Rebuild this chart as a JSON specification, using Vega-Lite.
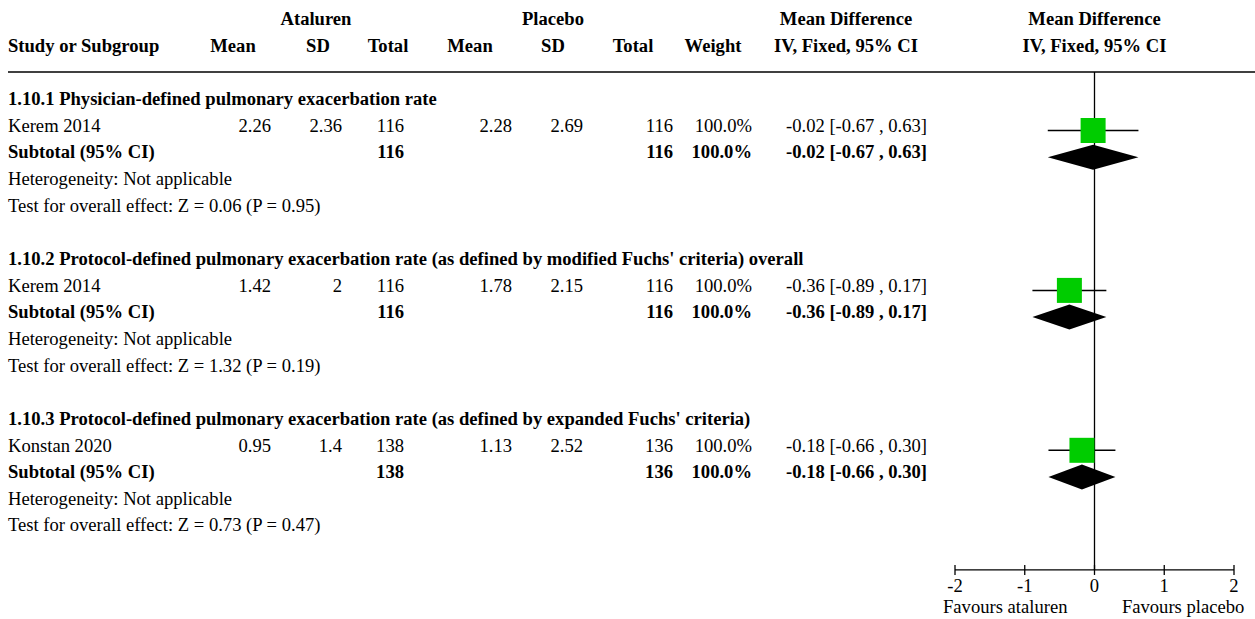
{
  "$schema": "https://vega.github.io/schema/vega-lite/v6.json",
  "padding": 0,
  "spacing": 0,
  "bounds": "flush",
  "background": "white",
  "config": {
    "view": {"stroke": null},
    "text": {"font": "Liberation Serif", "fontSize": 18.6, "baseline": "alphabetic", "dy": 1.2, "color": "black"}
  },
  "datasets": {
    "table": [
      {"row": 0, "kind": "heading", "label": "1.10.1 Physician-defined pulmonary exacerbation rate"},
      {"row": 1, "kind": "study", "label": "Kerem 2014", "mean_a": 2.26, "sd_a": 2.36, "n_a": 116, "mean_p": 2.28, "sd_p": 2.69, "n_p": 116, "weight": 1, "ci": "-0.02 [-0.67 , 0.63]", "md": -0.02, "lo": -0.67, "hi": 0.63},
      {"row": 2, "kind": "subtotal", "label": "Subtotal (95% CI)", "n_a": 116, "n_p": 116, "weight": 1, "ci": "-0.02 [-0.67 , 0.63]", "md": -0.02, "lo": -0.67, "hi": 0.63},
      {"row": 3, "kind": "note", "label": "Heterogeneity: Not applicable"},
      {"row": 4, "kind": "note", "label": "Test for overall effect: Z = 0.06 (P = 0.95)"},
      {"row": 6, "kind": "heading", "label": "1.10.2 Protocol-defined pulmonary exacerbation rate (as defined by modified Fuchs' criteria) overall"},
      {"row": 7, "kind": "study", "label": "Kerem 2014", "mean_a": 1.42, "sd_a": 2, "n_a": 116, "mean_p": 1.78, "sd_p": 2.15, "n_p": 116, "weight": 1, "ci": "-0.36 [-0.89 , 0.17]", "md": -0.36, "lo": -0.89, "hi": 0.17},
      {"row": 8, "kind": "subtotal", "label": "Subtotal (95% CI)", "n_a": 116, "n_p": 116, "weight": 1, "ci": "-0.36 [-0.89 , 0.17]", "md": -0.36, "lo": -0.89, "hi": 0.17},
      {"row": 9, "kind": "note", "label": "Heterogeneity: Not applicable"},
      {"row": 10, "kind": "note", "label": "Test for overall effect: Z = 1.32 (P = 0.19)"},
      {"row": 12, "kind": "heading", "label": "1.10.3 Protocol-defined pulmonary exacerbation rate (as defined by expanded Fuchs' criteria)"},
      {"row": 13, "kind": "study", "label": "Konstan 2020", "mean_a": 0.95, "sd_a": 1.4, "n_a": 138, "mean_p": 1.13, "sd_p": 2.52, "n_p": 136, "weight": 1, "ci": "-0.18 [-0.66 , 0.30]", "md": -0.18, "lo": -0.66, "hi": 0.30},
      {"row": 14, "kind": "subtotal", "label": "Subtotal (95% CI)", "n_a": 138, "n_p": 136, "weight": 1, "ci": "-0.18 [-0.66 , 0.30]", "md": -0.18, "lo": -0.66, "hi": 0.30},
      {"row": 15, "kind": "note", "label": "Heterogeneity: Not applicable"},
      {"row": 16, "kind": "note", "label": "Test for overall effect: Z = 0.73 (P = 0.47)"}
    ],
    "ticks": [{"t": -2}, {"t": -1}, {"t": 0}, {"t": 1}, {"t": 2}]
  },
  "hconcat": [
    {
      "width": 955,
      "height": 619,
      "layer": [
        {"data": {"values": [{}]}, "mark": {"type": "rule", "stroke": "#404040", "strokeWidth": 2},
         "encoding": {"x": {"datum": 8, "type": "quantitative", "scale": {"domain": [0, 955], "nice": false, "zero": false}, "axis": null}, "x2": {"datum": 955}, "y": {"datum": -1.195, "type": "quantitative", "scale": {"domain": [19.33, -3.8968], "nice": false, "zero": false}, "axis": null}}},
        {"data": {"values": [{"h": "Study or Subgroup"}]}, "mark": {"type": "text", "align": "left", "fontWeight": "bold"},
         "encoding": {"x": {"datum": 8, "type": "quantitative", "scale": {"domain": [0, 955], "nice": false, "zero": false}, "axis": null}, "y": {"datum": -2, "type": "quantitative", "scale": {"domain": [19.33, -3.8968], "nice": false, "zero": false}, "axis": null}, "text": {"field": "h"}}},
        {"data": {"values": [{"h": "Ataluren"}]}, "mark": {"type": "text", "align": "center", "fontWeight": "bold"},
         "encoding": {"x": {"datum": 316, "type": "quantitative", "scale": {"domain": [0, 955], "nice": false, "zero": false}, "axis": null}, "y": {"datum": -3, "type": "quantitative", "scale": {"domain": [19.33, -3.8968], "nice": false, "zero": false}, "axis": null}, "text": {"field": "h"}}},
        {"data": {"values": [{"h": "Placebo"}]}, "mark": {"type": "text", "align": "center", "fontWeight": "bold"},
         "encoding": {"x": {"datum": 553, "type": "quantitative", "scale": {"domain": [0, 955], "nice": false, "zero": false}, "axis": null}, "y": {"datum": -3, "type": "quantitative", "scale": {"domain": [19.33, -3.8968], "nice": false, "zero": false}, "axis": null}, "text": {"field": "h"}}},
        {"data": {"values": [{"h": "Mean Difference"}]}, "mark": {"type": "text", "align": "center", "fontWeight": "bold"},
         "encoding": {"x": {"datum": 846, "type": "quantitative", "scale": {"domain": [0, 955], "nice": false, "zero": false}, "axis": null}, "y": {"datum": -3, "type": "quantitative", "scale": {"domain": [19.33, -3.8968], "nice": false, "zero": false}, "axis": null}, "text": {"field": "h"}}},
        {"data": {"values": [{"h": "Mean"}]}, "mark": {"type": "text", "align": "center", "fontWeight": "bold"},
         "encoding": {"x": {"datum": 233, "type": "quantitative", "scale": {"domain": [0, 955], "nice": false, "zero": false}, "axis": null}, "y": {"datum": -2, "type": "quantitative", "scale": {"domain": [19.33, -3.8968], "nice": false, "zero": false}, "axis": null}, "text": {"field": "h"}}},
        {"data": {"values": [{"h": "SD"}]}, "mark": {"type": "text", "align": "center", "fontWeight": "bold"},
         "encoding": {"x": {"datum": 318, "type": "quantitative", "scale": {"domain": [0, 955], "nice": false, "zero": false}, "axis": null}, "y": {"datum": -2, "type": "quantitative", "scale": {"domain": [19.33, -3.8968], "nice": false, "zero": false}, "axis": null}, "text": {"field": "h"}}},
        {"data": {"values": [{"h": "Total"}]}, "mark": {"type": "text", "align": "center", "fontWeight": "bold"},
         "encoding": {"x": {"datum": 388, "type": "quantitative", "scale": {"domain": [0, 955], "nice": false, "zero": false}, "axis": null}, "y": {"datum": -2, "type": "quantitative", "scale": {"domain": [19.33, -3.8968], "nice": false, "zero": false}, "axis": null}, "text": {"field": "h"}}},
        {"data": {"values": [{"h": "Mean"}]}, "mark": {"type": "text", "align": "center", "fontWeight": "bold"},
         "encoding": {"x": {"datum": 470, "type": "quantitative", "scale": {"domain": [0, 955], "nice": false, "zero": false}, "axis": null}, "y": {"datum": -2, "type": "quantitative", "scale": {"domain": [19.33, -3.8968], "nice": false, "zero": false}, "axis": null}, "text": {"field": "h"}}},
        {"data": {"values": [{"h": "SD"}]}, "mark": {"type": "text", "align": "center", "fontWeight": "bold"},
         "encoding": {"x": {"datum": 553, "type": "quantitative", "scale": {"domain": [0, 955], "nice": false, "zero": false}, "axis": null}, "y": {"datum": -2, "type": "quantitative", "scale": {"domain": [19.33, -3.8968], "nice": false, "zero": false}, "axis": null}, "text": {"field": "h"}}},
        {"data": {"values": [{"h": "Total"}]}, "mark": {"type": "text", "align": "center", "fontWeight": "bold"},
         "encoding": {"x": {"datum": 633, "type": "quantitative", "scale": {"domain": [0, 955], "nice": false, "zero": false}, "axis": null}, "y": {"datum": -2, "type": "quantitative", "scale": {"domain": [19.33, -3.8968], "nice": false, "zero": false}, "axis": null}, "text": {"field": "h"}}},
        {"data": {"values": [{"h": "Weight"}]}, "mark": {"type": "text", "align": "center", "fontWeight": "bold"},
         "encoding": {"x": {"datum": 713, "type": "quantitative", "scale": {"domain": [0, 955], "nice": false, "zero": false}, "axis": null}, "y": {"datum": -2, "type": "quantitative", "scale": {"domain": [19.33, -3.8968], "nice": false, "zero": false}, "axis": null}, "text": {"field": "h"}}},
        {"data": {"values": [{"h": "IV, Fixed, 95% CI"}]}, "mark": {"type": "text", "align": "center", "fontWeight": "bold"},
         "encoding": {"x": {"datum": 846, "type": "quantitative", "scale": {"domain": [0, 955], "nice": false, "zero": false}, "axis": null}, "y": {"datum": -2, "type": "quantitative", "scale": {"domain": [19.33, -3.8968], "nice": false, "zero": false}, "axis": null}, "text": {"field": "h"}}},
        {"data": {"name": "table"}, "transform": [{"filter": "datum.kind === 'study' || datum.kind === 'note'"}], "mark": {"type": "text", "align": "left"},
         "encoding": {"x": {"datum": 8, "type": "quantitative", "scale": {"domain": [0, 955], "nice": false, "zero": false}, "axis": null}, "y": {"field": "row", "type": "quantitative", "scale": {"domain": [19.33, -3.8968], "nice": false, "zero": false}, "axis": null}, "text": {"field": "label", "type": "nominal"}}},
        {"data": {"name": "table"}, "transform": [{"filter": "datum.kind === 'heading' || datum.kind === 'subtotal'"}], "mark": {"type": "text", "align": "left", "fontWeight": "bold"},
         "encoding": {"x": {"datum": 8, "type": "quantitative", "scale": {"domain": [0, 955], "nice": false, "zero": false}, "axis": null}, "y": {"field": "row", "type": "quantitative", "scale": {"domain": [19.33, -3.8968], "nice": false, "zero": false}, "axis": null}, "text": {"field": "label", "type": "nominal"}}},
        {"data": {"name": "table"}, "transform": [{"filter": "datum.kind === 'study'"}], "mark": {"type": "text", "align": "right"},
         "encoding": {"x": {"datum": 271, "type": "quantitative", "scale": {"domain": [0, 955], "nice": false, "zero": false}, "axis": null}, "y": {"field": "row", "type": "quantitative", "scale": {"domain": [19.33, -3.8968], "nice": false, "zero": false}, "axis": null}, "text": {"field": "mean_a", "type": "nominal"}}},
        {"data": {"name": "table"}, "transform": [{"filter": "datum.kind === 'study'"}], "mark": {"type": "text", "align": "right"},
         "encoding": {"x": {"datum": 342, "type": "quantitative", "scale": {"domain": [0, 955], "nice": false, "zero": false}, "axis": null}, "y": {"field": "row", "type": "quantitative", "scale": {"domain": [19.33, -3.8968], "nice": false, "zero": false}, "axis": null}, "text": {"field": "sd_a", "type": "nominal"}}},
        {"data": {"name": "table"}, "transform": [{"filter": "datum.kind === 'study'"}], "mark": {"type": "text", "align": "right"},
         "encoding": {"x": {"datum": 512, "type": "quantitative", "scale": {"domain": [0, 955], "nice": false, "zero": false}, "axis": null}, "y": {"field": "row", "type": "quantitative", "scale": {"domain": [19.33, -3.8968], "nice": false, "zero": false}, "axis": null}, "text": {"field": "mean_p", "type": "nominal"}}},
        {"data": {"name": "table"}, "transform": [{"filter": "datum.kind === 'study'"}], "mark": {"type": "text", "align": "right"},
         "encoding": {"x": {"datum": 583, "type": "quantitative", "scale": {"domain": [0, 955], "nice": false, "zero": false}, "axis": null}, "y": {"field": "row", "type": "quantitative", "scale": {"domain": [19.33, -3.8968], "nice": false, "zero": false}, "axis": null}, "text": {"field": "sd_p", "type": "nominal"}}},
        {"data": {"name": "table"}, "transform": [{"filter": "datum.kind === 'study'"}], "mark": {"type": "text", "align": "right"},
         "encoding": {"x": {"datum": 404, "type": "quantitative", "scale": {"domain": [0, 955], "nice": false, "zero": false}, "axis": null}, "y": {"field": "row", "type": "quantitative", "scale": {"domain": [19.33, -3.8968], "nice": false, "zero": false}, "axis": null}, "text": {"field": "n_a", "type": "nominal"}}},
        {"data": {"name": "table"}, "transform": [{"filter": "datum.kind === 'subtotal'"}], "mark": {"type": "text", "align": "right", "fontWeight": "bold"},
         "encoding": {"x": {"datum": 404, "type": "quantitative", "scale": {"domain": [0, 955], "nice": false, "zero": false}, "axis": null}, "y": {"field": "row", "type": "quantitative", "scale": {"domain": [19.33, -3.8968], "nice": false, "zero": false}, "axis": null}, "text": {"field": "n_a", "type": "nominal"}}},
        {"data": {"name": "table"}, "transform": [{"filter": "datum.kind === 'study'"}], "mark": {"type": "text", "align": "right"},
         "encoding": {"x": {"datum": 673, "type": "quantitative", "scale": {"domain": [0, 955], "nice": false, "zero": false}, "axis": null}, "y": {"field": "row", "type": "quantitative", "scale": {"domain": [19.33, -3.8968], "nice": false, "zero": false}, "axis": null}, "text": {"field": "n_p", "type": "nominal"}}},
        {"data": {"name": "table"}, "transform": [{"filter": "datum.kind === 'subtotal'"}], "mark": {"type": "text", "align": "right", "fontWeight": "bold"},
         "encoding": {"x": {"datum": 673, "type": "quantitative", "scale": {"domain": [0, 955], "nice": false, "zero": false}, "axis": null}, "y": {"field": "row", "type": "quantitative", "scale": {"domain": [19.33, -3.8968], "nice": false, "zero": false}, "axis": null}, "text": {"field": "n_p", "type": "nominal"}}},
        {"data": {"name": "table"}, "transform": [{"filter": "datum.kind === 'study'"}], "mark": {"type": "text", "align": "right"},
         "encoding": {"x": {"datum": 752, "type": "quantitative", "scale": {"domain": [0, 955], "nice": false, "zero": false}, "axis": null}, "y": {"field": "row", "type": "quantitative", "scale": {"domain": [19.33, -3.8968], "nice": false, "zero": false}, "axis": null}, "text": {"field": "weight", "type": "quantitative", "format": ".1%"}}},
        {"data": {"name": "table"}, "transform": [{"filter": "datum.kind === 'subtotal'"}], "mark": {"type": "text", "align": "right", "fontWeight": "bold"},
         "encoding": {"x": {"datum": 752, "type": "quantitative", "scale": {"domain": [0, 955], "nice": false, "zero": false}, "axis": null}, "y": {"field": "row", "type": "quantitative", "scale": {"domain": [19.33, -3.8968], "nice": false, "zero": false}, "axis": null}, "text": {"field": "weight", "type": "quantitative", "format": ".1%"}}},
        {"data": {"name": "table"}, "transform": [{"filter": "datum.kind === 'study'"}], "mark": {"type": "text", "align": "left"},
         "encoding": {"x": {"datum": 786, "type": "quantitative", "scale": {"domain": [0, 955], "nice": false, "zero": false}, "axis": null}, "y": {"field": "row", "type": "quantitative", "scale": {"domain": [19.33, -3.8968], "nice": false, "zero": false}, "axis": null}, "text": {"field": "ci", "type": "nominal"}}},
        {"data": {"name": "table"}, "transform": [{"filter": "datum.kind === 'subtotal'"}], "mark": {"type": "text", "align": "left", "fontWeight": "bold"},
         "encoding": {"x": {"datum": 786, "type": "quantitative", "scale": {"domain": [0, 955], "nice": false, "zero": false}, "axis": null}, "y": {"field": "row", "type": "quantitative", "scale": {"domain": [19.33, -3.8968], "nice": false, "zero": false}, "axis": null}, "text": {"field": "ci", "type": "nominal"}}}
      ]
    },
    {
      "width": 279,
      "height": 619,
      "layer": [
        {"data": {"values": [{}]}, "mark": {"type": "rule", "stroke": "#404040", "strokeWidth": 2},
         "encoding": {"x": {"datum": -2, "type": "quantitative", "scale": {"domain": [-2, 2], "nice": false, "zero": false}, "axis": null}, "x2": {"datum": 2.31}, "y": {"datum": -1.195, "type": "quantitative", "scale": {"domain": [19.33, -3.8968], "nice": false, "zero": false}, "axis": null}}},
        {"data": {"values": [{}]}, "mark": {"type": "rule", "stroke": "black", "strokeWidth": 1.3},
         "encoding": {"x": {"datum": 0, "type": "quantitative", "scale": {"domain": [-2, 2], "nice": false, "zero": false}, "axis": null}, "y": {"datum": -1.195, "type": "quantitative", "scale": {"domain": [19.33, -3.8968], "nice": false, "zero": false}, "axis": null}, "y2": {"datum": 17.49}}},
        {"data": {"values": [{"h": "Mean Difference"}]}, "mark": {"type": "text", "align": "center", "fontWeight": "bold"},
         "encoding": {"x": {"datum": 0, "type": "quantitative", "scale": {"domain": [-2, 2], "nice": false, "zero": false}, "axis": null}, "y": {"datum": -3, "type": "quantitative", "scale": {"domain": [19.33, -3.8968], "nice": false, "zero": false}, "axis": null}, "text": {"field": "h"}}},
        {"data": {"values": [{"h": "IV, Fixed, 95% CI"}]}, "mark": {"type": "text", "align": "center", "fontWeight": "bold"},
         "encoding": {"x": {"datum": 0, "type": "quantitative", "scale": {"domain": [-2, 2], "nice": false, "zero": false}, "axis": null}, "y": {"datum": -2, "type": "quantitative", "scale": {"domain": [19.33, -3.8968], "nice": false, "zero": false}, "axis": null}, "text": {"field": "h"}}},
        {"data": {"name": "table"}, "transform": [{"filter": "datum.kind === 'study'"}], "mark": {"type": "rule", "stroke": "black", "strokeWidth": 1.5},
         "encoding": {"x": {"field": "lo", "type": "quantitative", "scale": {"domain": [-2, 2], "nice": false, "zero": false}, "axis": null}, "x2": {"field": "hi"}, "y": {"field": "row", "type": "quantitative", "scale": {"domain": [19.33, -3.8968], "nice": false, "zero": false}, "axis": null}}},
        {"data": {"name": "table"}, "transform": [{"filter": "datum.kind === 'study'"}], "mark": {"type": "point", "shape": "square", "filled": true, "size": 625, "color": "#00cc00", "opacity": 1},
         "encoding": {"x": {"field": "md", "type": "quantitative", "scale": {"domain": [-2, 2], "nice": false, "zero": false}, "axis": null}, "y": {"field": "row", "type": "quantitative", "scale": {"domain": [19.33, -3.8968], "nice": false, "zero": false}, "axis": null}}},
        {"data": {"name": "table"}, "transform": [{"filter": "datum.row === 2"}], "mark": {"type": "point", "shape": "M-1,0L0,-0.2756L1,0L0,0.2756Z", "filled": true, "size": 8226, "color": "black", "opacity": 1},
         "encoding": {"x": {"field": "md", "type": "quantitative", "scale": {"domain": [-2, 2], "nice": false, "zero": false}, "axis": null}, "y": {"field": "row", "type": "quantitative", "scale": {"domain": [19.33, -3.8968], "nice": false, "zero": false}, "axis": null}}},
        {"data": {"name": "table"}, "transform": [{"filter": "datum.row === 8"}], "mark": {"type": "point", "shape": "M-1,0L0,-0.3381L1,0L0,0.3381Z", "filled": true, "size": 5467, "color": "black", "opacity": 1},
         "encoding": {"x": {"field": "md", "type": "quantitative", "scale": {"domain": [-2, 2], "nice": false, "zero": false}, "axis": null}, "y": {"field": "row", "type": "quantitative", "scale": {"domain": [19.33, -3.8968], "nice": false, "zero": false}, "axis": null}}},
        {"data": {"name": "table"}, "transform": [{"filter": "datum.row === 14"}], "mark": {"type": "point", "shape": "M-1,0L0,-0.3734L1,0L0,0.3734Z", "filled": true, "size": 4484, "color": "black", "opacity": 1},
         "encoding": {"x": {"field": "md", "type": "quantitative", "scale": {"domain": [-2, 2], "nice": false, "zero": false}, "axis": null}, "y": {"field": "row", "type": "quantitative", "scale": {"domain": [19.33, -3.8968], "nice": false, "zero": false}, "axis": null}}},
        {"data": {"values": [{}]}, "mark": {"type": "rule", "stroke": "black", "strokeWidth": 1.3},
         "encoding": {"x": {"datum": -2, "type": "quantitative", "scale": {"domain": [-2, 2], "nice": false, "zero": false}, "axis": null}, "x2": {"datum": 2}, "y": {"datum": 17.49, "type": "quantitative", "scale": {"domain": [19.33, -3.8968], "nice": false, "zero": false}, "axis": null}}},
        {"data": {"name": "ticks"}, "mark": {"type": "tick", "orient": "vertical", "size": 10, "thickness": 1.3, "color": "black", "opacity": 1},
         "encoding": {"x": {"field": "t", "type": "quantitative", "scale": {"domain": [-2, 2], "nice": false, "zero": false}, "axis": null}, "y": {"datum": 17.49, "type": "quantitative", "scale": {"domain": [19.33, -3.8968], "nice": false, "zero": false}, "axis": null}}},
        {"data": {"name": "ticks"}, "mark": {"type": "text", "align": "center"},
         "encoding": {"x": {"field": "t", "type": "quantitative", "scale": {"domain": [-2, 2], "nice": false, "zero": false}, "axis": null}, "y": {"datum": 18.27, "type": "quantitative", "scale": {"domain": [19.33, -3.8968], "nice": false, "zero": false}, "axis": null}, "text": {"field": "t", "type": "nominal"}}},
        {"data": {"values": [{"h": "Favours ataluren"}]}, "mark": {"type": "text", "align": "center"},
         "encoding": {"x": {"datum": -1.28, "type": "quantitative", "scale": {"domain": [-2, 2], "nice": false, "zero": false}, "axis": null}, "y": {"datum": 19.05, "type": "quantitative", "scale": {"domain": [19.33, -3.8968], "nice": false, "zero": false}, "axis": null}, "text": {"field": "h"}}},
        {"data": {"values": [{"h": "Favours placebo"}]}, "mark": {"type": "text", "align": "center"},
         "encoding": {"x": {"datum": 1.27, "type": "quantitative", "scale": {"domain": [-2, 2], "nice": false, "zero": false}, "axis": null}, "y": {"datum": 19.05, "type": "quantitative", "scale": {"domain": [19.33, -3.8968], "nice": false, "zero": false}, "axis": null}, "text": {"field": "h"}}}
      ]
    }
  ]
}
